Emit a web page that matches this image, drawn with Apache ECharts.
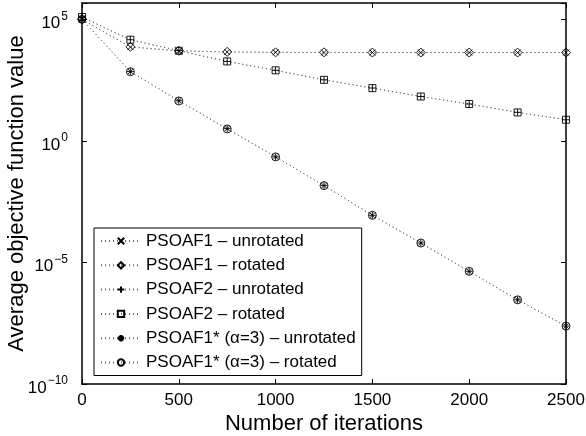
<!DOCTYPE html>
<html>
<head>
<meta charset="utf-8">
<script src="https://cdn.jsdelivr.net/npm/echarts@6/dist/echarts.min.js"></script>
<style>html,body{margin:0;padding:0;background:#fff}#c{width:586px;height:436px}</style>
</head>
<body>
<div id="c"></div>
<script>
var iterations = [0, 250, 500, 750, 1000, 1250, 1500, 1750, 2000, 2250, 2500];
var xTicks = [0, 500, 1000, 1500, 2000, 2500];
var yTickExponents = [-10, -5, 0, 5];
var seriesNames = [
  'PSOAF1 \u2013 unrotated',
  'PSOAF1 \u2013 rotated',
  'PSOAF2 \u2013 unrotated',
  'PSOAF2 \u2013 rotated',
  'PSOAF1* (\u03b1=3) \u2013 unrotated',
  'PSOAF1* (\u03b1=3) \u2013 rotated'
];
var psoaf1Unrotated = [1.0e5, 7.2e3, 5.0e3, 4.5e3, 4.4e3, 4.3e3, 4.3e3, 4.3e3, 4.3e3, 4.3e3, 4.3e3];
var psoaf1Rotated   = [1.0e5, 7.4e3, 5.1e3, 4.6e3, 4.4e3, 4.4e3, 4.3e3, 4.3e3, 4.3e3, 4.3e3, 4.3e3];
var psoaf2Unrotated = [1.2e5, 1.45e4, 5.2e3, 1.85e3, 800, 325, 150, 67, 33, 15, 7.4];
var psoaf2Rotated   = [1.25e5, 1.45e4, 5.1e3, 1.86e3, 800, 325, 148, 67, 33, 14.8, 7.4];
var psoaf1sUnrotated = [1.0e5, 710, 45, 3.2, 0.22, 0.0145, 8.7e-4, 6.3e-5, 4.3e-6, 2.9e-7, 2.4e-8];
var psoaf1sRotated   = [1.0e5, 700, 44, 3.1, 0.22, 0.0145, 8.7e-4, 6.3e-5, 4.3e-6, 2.9e-7, 2.4e-8];

var allValues = [psoaf1Unrotated, psoaf1Rotated, psoaf2Unrotated, psoaf2Rotated, psoaf1sUnrotated, psoaf1sRotated];
var symbols = [
  'path://M0,0L10,10M10,0L0,10',
  'path://M5,0L10,5L5,10L0,5Z',
  'path://M5,0L5,10M0,5L10,5',
  'path://M0,0L10,0L10,10L0,10Z',
  'path://M5,0L5,10M0,5L10,5M1.5,1.5L8.5,8.5M8.5,1.5L1.5,8.5',
  'circle'
];
var sizes = [6, 9, 7, 7, 7, 8];

var FONT = '"Liberation Sans", Arial, Helvetica, sans-serif';

var series = allValues.map(function (vals, i) {
  return {
    name: seriesNames[i],
    type: 'line',
    data: iterations.map(function (x, k) { return [x, vals[k]]; }),
    symbol: symbols[i],
    symbolSize: sizes[i],
    showAllSymbol: true,
    lineStyle: { color: '#666', width: 1, type: [1, 3] },
    itemStyle: { color: 'rgba(255,255,255,0)', borderColor: '#000', borderWidth: 0.9 },
    emphasis: { disabled: true },
    animation: false
  };
});

function fmtY(v) {
  var e = Math.round(Math.log10(v));
  if (Math.abs(Math.log10(v) - e) > 1e-6 || yTickExponents.indexOf(e) < 0) return '';
  return '{b|10}{s|' + String(e).replace('-', '\u2212') + '}';
}

var axisLineStyle = { show: true, onZero: false, lineStyle: { color: '#000', width: 1.5 } };
var tickStyle = { inside: true, length: 5, lineStyle: { color: '#000', width: 1 } };

var chart = echarts.init(document.getElementById('c'), null, { renderer: 'canvas' });
chart.setOption({
  animation: false,
  backgroundColor: '#fff',
  textStyle: { fontFamily: FONT },
  grid: { left: 82, right: 20, top: 3, bottom: 52, containLabel: false, outerBoundsMode: 'none' },
  xAxis: [{
    type: 'value', min: xTicks[0], max: xTicks[xTicks.length - 1], interval: 500,
    name: 'Number of iterations', nameLocation: 'middle', nameGap: 29, nameMoveOverlap: false,
    nameTextStyle: { fontSize: 22, color: '#000', fontFamily: FONT },
    axisLine: axisLineStyle,
    axisTick: tickStyle,
    axisLabel: { fontSize: 17, color: '#000', margin: 8, fontFamily: FONT,
      formatter: function (v) { return String(v); } },
    splitLine: { show: false }
  }, {
    type: 'value', position: 'top', min: xTicks[0], max: xTicks[xTicks.length - 1], interval: 500,
    axisLine: axisLineStyle,
    axisTick: tickStyle,
    axisLabel: { show: false }, splitLine: { show: false }
  }],
  yAxis: [{
    type: 'log', logBase: 10, min: 1e-10, max: 4.7e5, interval: 5,
    name: 'Average objective function value', nameLocation: 'middle', nameGap: 54, nameMoveOverlap: false,
    nameTextStyle: { fontSize: 22, color: '#000', fontFamily: FONT },
    axisLine: axisLineStyle,
    axisTick: tickStyle,
    axisLabel: {
      formatter: fmtY, margin: 14, color: '#000',
      rich: {
        b: { fontSize: 17, fontFamily: FONT, color: '#000', padding: [8, 0, 0, 0] },
        s: { fontSize: 12, fontFamily: FONT, color: '#000', padding: [0, 0, 6, 1] }
      }
    },
    splitLine: { show: false }, minorTick: { show: false }
  }, {
    type: 'log', logBase: 10, min: 1e-10, max: 4.7e5, interval: 5, position: 'right',
    axisLine: axisLineStyle,
    axisTick: tickStyle,
    axisLabel: { show: false }, splitLine: { show: false }
  }],
  legend: {
    orient: 'vertical', left: 94, top: 228,
    backgroundColor: '#fff', borderColor: '#000', borderWidth: 1, borderRadius: 0,
    padding: [4, 6, 4, 6],
    itemWidth: 40, itemHeight: 8, itemGap: 6.3,
    textStyle: { fontSize: 17, color: '#000', fontFamily: FONT, lineHeight: 18 },
    data: seriesNames,
    selectedMode: false
  },
  series: series
});
</script>
</body>
</html>
